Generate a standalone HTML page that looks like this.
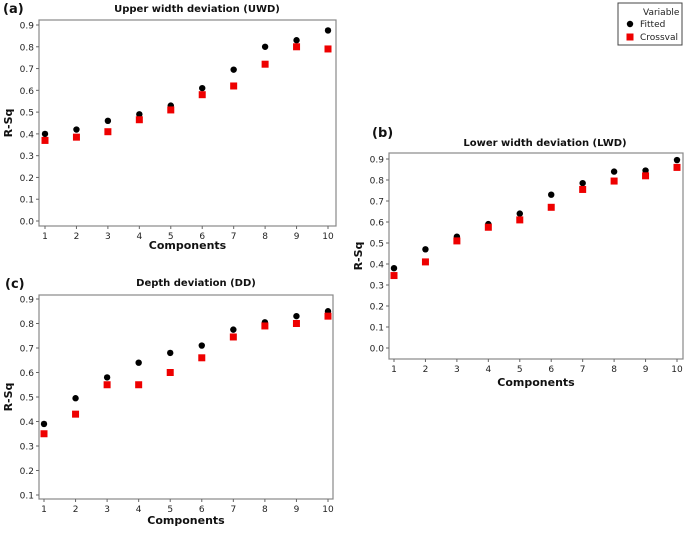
<!DOCTYPE html>
<html><head><meta charset="utf-8"><style>
body{margin:0;background:#fff;}
svg text{font-family:"DejaVu Sans","Liberation Sans",sans-serif;}
</style></head><body>
<svg id="c" width="685" height="528" xmlns="http://www.w3.org/2000/svg">
<g>
<rect x="618" y="3" width="64" height="42" fill="#fff" stroke="#444" stroke-width="1"/>
<text x="643" y="15" font-size="9" fill="#222">Variable</text>
<circle cx="630" cy="24" r="3.2" fill="#000"/>
<text x="640" y="27" font-size="9" fill="#222">Fitted</text>
<rect x="626.5" y="33.5" width="7" height="7" fill="#e00"/>
<text x="640" y="40" font-size="9" fill="#222">Crossval</text>
</g>
</svg>
<script>
const categories=[1,2,3,4,5,6,7,8,9,10];
const uwdFitted=[0.40,0.42,0.46,0.49,0.53,0.61,0.695,0.80,0.83,0.875];
const uwdCross=[0.37,0.385,0.41,0.465,0.51,0.58,0.62,0.72,0.80,0.79];
const lwdFitted=[0.38,0.47,0.53,0.59,0.64,0.73,0.785,0.84,0.845,0.895];
const lwdCross=[0.345,0.41,0.51,0.575,0.61,0.67,0.755,0.795,0.82,0.86];
const ddFitted=[0.39,0.495,0.58,0.64,0.68,0.71,0.775,0.805,0.83,0.85];
const ddCross=[0.35,0.43,0.55,0.55,0.60,0.66,0.745,0.79,0.80,0.83];
const ticksA=[0,0.1,0.2,0.3,0.4,0.5,0.6,0.7,0.8,0.9];
const ticksC=[0.1,0.2,0.3,0.4,0.5,0.6,0.7,0.8,0.9];

const NS="http://www.w3.org/2000/svg";
const svg=document.getElementById('c');
function mk(tag,attrs,parent){const e=document.createElementNS(NS,tag);for(const k in attrs)e.setAttribute(k,attrs[k]);(parent||svg).appendChild(e);return e;}

function panel(p){
  const g=mk('g',{});
  
  
  const xs=v=>p.x1+(v-1)*(p.x10-p.x1)/9;
  const ys=v=>p.yLo+(v-p.vLo)*(p.yHi-p.yLo)/(0.9-p.vLo);
  const box=mk('rect',{x:p.L,y:p.T,width:p.R-p.L,height:p.B-p.T,fill:'#fff',stroke:'#888','stroke-width':1.2},g);
  
  
  p.ticks.forEach(t=>{
    const y=ys(t);
    mk('line',{x1:p.L-3,x2:p.L,y1:y,y2:y,stroke:'#666'},g);
    const tx=mk('text',{x:p.L-5,y:y+3.5,'font-size':9,'text-anchor':'end',fill:'#222'},g);
    tx.textContent=t.toFixed(1);
    
    
  });
  categories.forEach(c=>{
    const x=xs(c);
    mk('line',{x1:x,x2:x,y1:p.B,y2:p.B+3,stroke:'#666'},g);
    const tx=mk('text',{x:x,y:p.B+13,'font-size':9,'text-anchor':'middle',fill:'#222'},g);
    tx.textContent=c;
    
    
  });
  categories.forEach((c,i)=>{
    const d=mk('circle',{cx:xs(c),cy:ys(p.fit[i]),r:3.2,fill:'#000'},g);
    
    
    const s=mk('rect',{x:xs(c)-3.5,y:ys(p.cv[i])-3.5,width:7,height:7,fill:'#e00'},g);
    
    
  });
  const ti=mk('text',{x:p.tx,y:p.ty,'font-size':10,'font-weight':'bold','text-anchor':'middle',fill:'#111'},g);
  ti.textContent=p.title;
  
  
  const lb=mk('text',{x:p.lx,y:p.ly,'font-size':13,'font-weight':'bold',fill:'#111'},g);
  lb.textContent=p.label;
  
  
  const xt=mk('text',{x:(p.L+p.R)/2,y:p.xty,'font-size':11,'font-weight':'bold','text-anchor':'middle',fill:'#111'},g);
  xt.textContent='Components';
  
  
  const cy=(p.T+p.B)/2;
  const yt=mk('text',{x:p.ytx,y:cy,'font-size':11,'font-weight':'bold','text-anchor':'middle',fill:'#111',transform:`rotate(-90 ${p.ytx} ${cy})`},g);
  yt.textContent='R-Sq';
  
  
}
panel({name:'panel-uwd',L:39,T:20,R:336,B:226,x1:45,x10:328,yLo:221,yHi:25,vLo:0,ticks:ticksA,fit:uwdFitted,cv:uwdCross,title:'Upper width deviation (UWD)',tx:197,ty:12,label:'(a)',lx:3,ly:13,xty:249,ytx:12});
panel({name:'panel-lwd',L:389,T:153,R:683,B:359,x1:394,x10:677,yLo:348,yHi:159,vLo:0,ticks:ticksA,fit:lwdFitted,cv:lwdCross,title:'Lower width deviation (LWD)',tx:545,ty:146,label:'(b)',lx:372,ly:137,xty:386,ytx:362});
panel({name:'panel-dd',L:39,T:295,R:333,B:499,x1:44,x10:328,yLo:495,yHi:299,vLo:0.1,ticks:ticksC,fit:ddFitted,cv:ddCross,title:'Depth deviation (DD)',tx:196,ty:286,label:'(c)',lx:5,ly:288,xty:524,ytx:12});
</script>
</body></html>
